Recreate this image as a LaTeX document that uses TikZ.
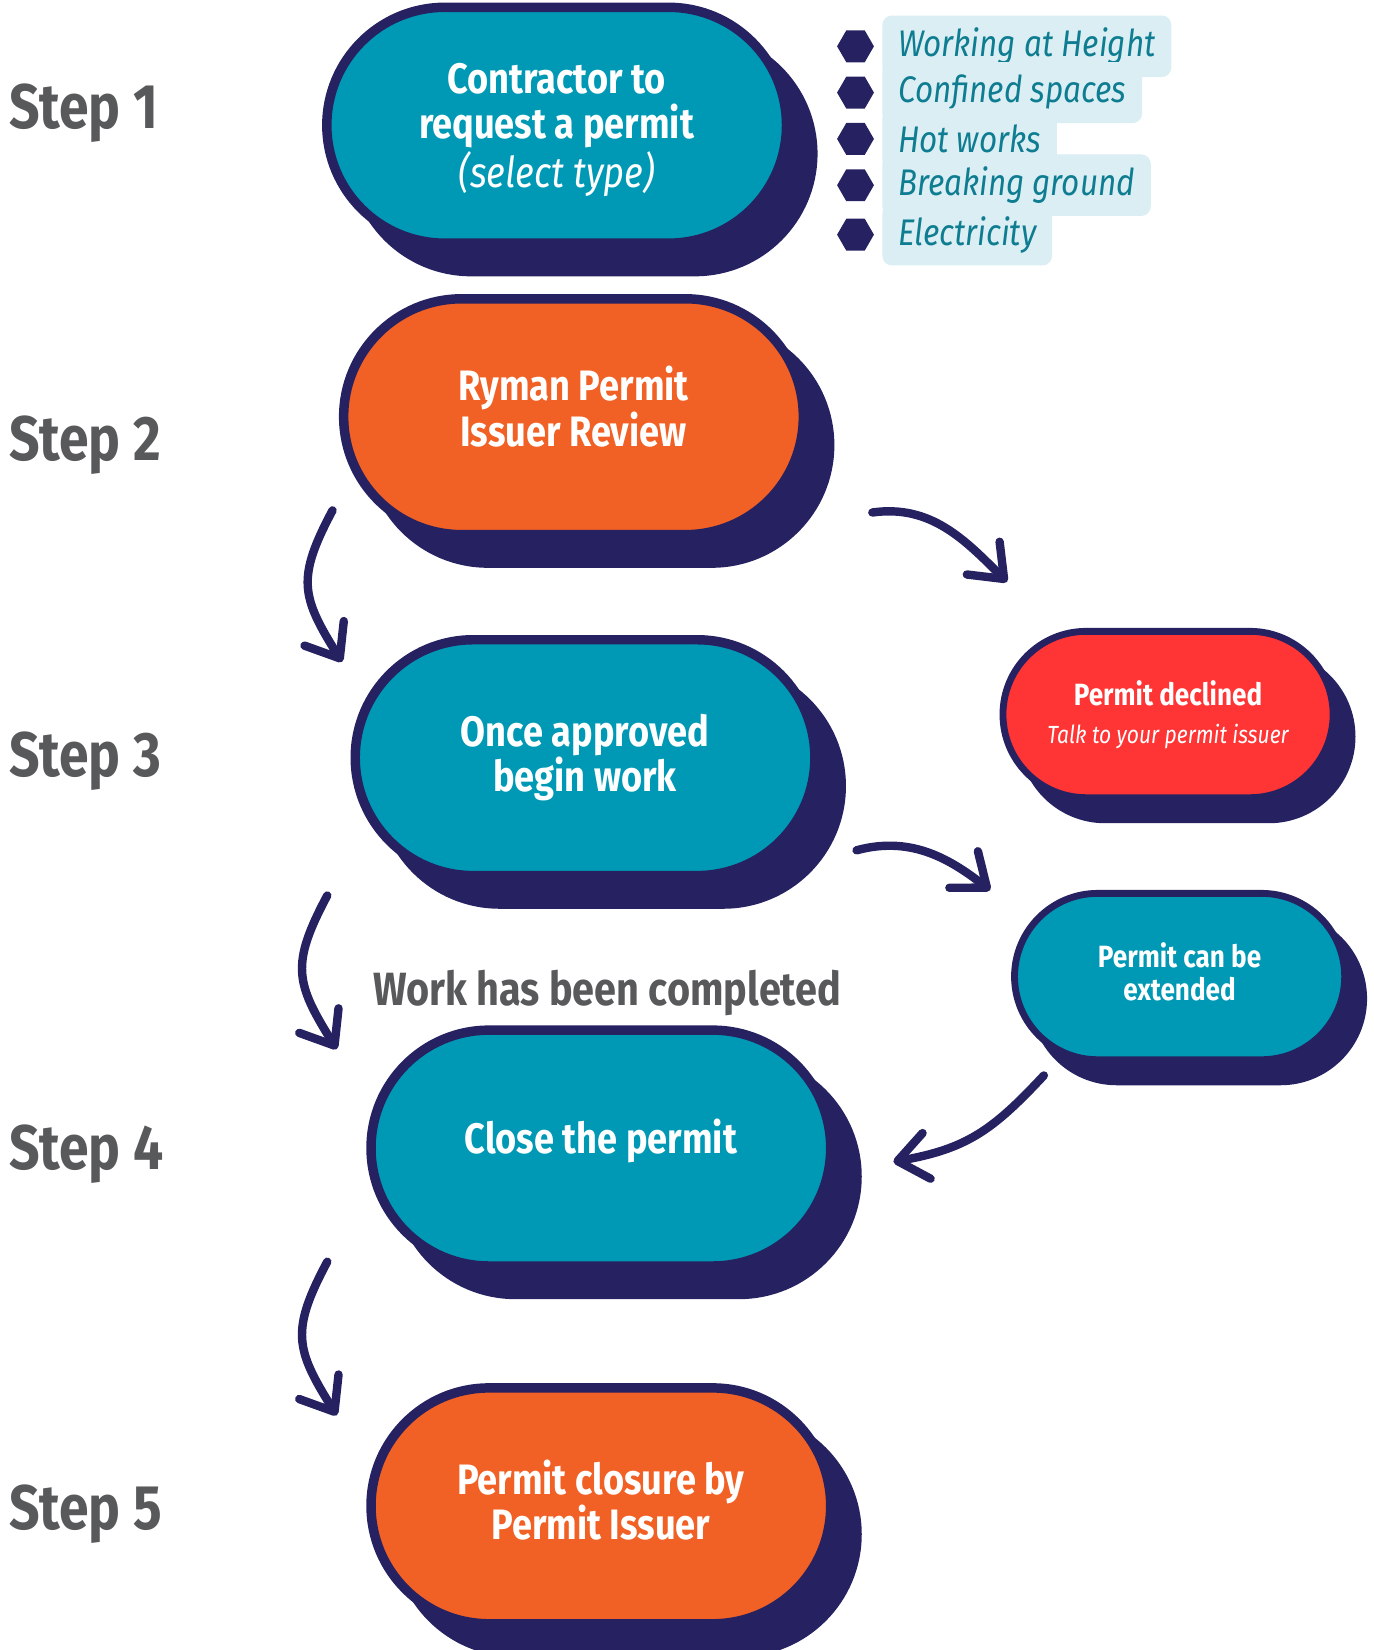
\documentclass[tikz,border=0pt]{standalone}
\usepackage{fontspec}
\setmainfont[FakeStretch=0.85]{Fira Sans}
\usepackage{xcolor}
\usepackage{tikz}
\usetikzlibrary{shapes.misc,shapes.geometric}
\usetikzlibrary{arrows.meta,shadows,positioning}
\definecolor{navy}{HTML}{262262}
\definecolor{tealbox}{HTML}{0099B5}
\definecolor{orangebox}{HTML}{F16024}
\definecolor{redbox}{HTML}{FF3434}
\definecolor{stepgray}{HTML}{58595B}
\definecolor{pale}{HTML}{DAEEF3}
\definecolor{itemtext}{HTML}{0E7C91}
\tikzset{
  bigbox/.style = {rounded rectangle, draw=navy, line width=0.09cm, minimum width=4.6cm, minimum height=2.24cm, align=center, text=white, font=\fontsize{11.5}{12.2}\selectfont\bfseries,
    general shadow={fill=navy, draw=navy, line width=0.09cm, shadow xshift=0.25cm, shadow yshift=-0.27cm}},
  smallbox/.style = {rounded rectangle, draw=navy, line width=0.065cm, minimum width=3.37cm, minimum height=1.58cm, align=center, text=white, font=\fontsize{8.3}{8.8}\selectfont\bfseries,
    general shadow={fill=navy, draw=navy, line width=0.065cm, shadow xshift=0.18cm, shadow yshift=-0.21cm}},
  steplbl/.style = {anchor=base west, inner sep=0pt, text=stepgray, font=\fontsize{17}{20}\selectfont\bfseries},
  hexa/.style = {regular polygon, regular polygon sides=6, minimum size=0.35cm, inner sep=0pt, fill=navy},
  item/.style = {fill=pale, rounded corners=0.09cm, text=itemtext, inner xsep=0.15cm, minimum height=0.58cm, font=\fontsize{10}{12}\selectfont\itshape},
  flow/.style = {draw=navy, line width=0.08cm, line cap=round, -{Straight Barb[length=0.28cm, width=0.44cm, round]}}
}
\begin{document}
\begin{tikzpicture}[x=0.01cm, y=0.01cm]
	\useasboundingbox (0,0) rectangle (1305,-1568);
	\node[steplbl] (l1) at (8,-122) {Step 1};
	\node[steplbl] (l2) at (8,-438) {Step 2};
	\node[steplbl] (l3) at (8,-738) {Step 3};
	\node[steplbl] (l4) at (8,-1111) {Step 4};
	\node[steplbl] (l5) at (8,-1453) {Step 5};
	\node[bigbox, fill=tealbox] (s1) at (529,-119) {\rule{0pt}{10.8pt}Contractor to\\request a permit\\{\mdseries\itshape (select type)}};
	\node[bigbox, fill=orangebox] (s2) at (545,-396) {Ryman Permit\\Issuer Review\rule[-5.7pt]{0pt}{5.7pt}};
	\node[bigbox, fill=tealbox] (s3) at (556,-720) {Once approved\\begin work};
	\node[bigbox, fill=tealbox] (s4) at (571,-1091) {Close the permit\rule[-6.5pt]{0pt}{6.5pt}};
	\node[bigbox, fill=orangebox] (s5) at (571,-1431) {Permit closure by\\Permit Issuer\rule[-3.4pt]{0pt}{3.4pt}};
	\node[smallbox, fill=redbox] (dec) at (1110,-679) {Permit declined\\[1.4pt]{\mdseries\itshape\fontsize{6.7}{8}\selectfont Talk to your permit issuer}};
	\node[smallbox, fill=tealbox] (ext) at (1121,-928) {Permit can be\\extended\rule[-2.8pt]{0pt}{2.8pt}};
	\node[inner sep=0pt, text=stepgray, font=\fontsize{12.6}{15}\selectfont\bfseries] (work) at (577,-944) {Work has been completed};
	\node[hexa] (h1) at (813,-44) {};
	\node[hexa] (h2) at (813,-88) {};
	\node[hexa] (h3) at (813,-132) {};
	\node[hexa] (h4) at (813,-176) {};
	\node[hexa] (h5) at (813,-223) {};
	\node[item, right=0.065cm of h1] (t1) {Working at Height};
	\node[item, right=0.065cm of h2] (t2) {Confined spaces};
	\node[item, right=0.065cm of h3] (t3) {Hot works};
	\node[item, right=0.065cm of h4] (t4) {Breaking ground};
	\node[item, right=0.065cm of h5] (t5) {Electricity};
	\coordinate (a1s) at (316,-485);
	\coordinate (a1e) at (325,-629);
	\coordinate (a2s) at (311,-851);
	\coordinate (a2e) at (320,-997);
	\coordinate (a3s) at (311,-1199);
	\coordinate (a3e) at (320,-1345);
	\coordinate (a4s) at (829,-487);
	\coordinate (a4e) at (957,-553);
	\coordinate (a5s) at (814,-808);
	\coordinate (a5e) at (941,-846);
	\coordinate (a6s) at (992,-1022);
	\coordinate (a6e) at (849,-1104);
	\draw[flow] (a1s) to[out=242, in=122, looseness=1.3] (a1e);
	\draw[flow] (a2s) to[out=242, in=122, looseness=1.3] (a2e);
	\draw[flow] (a3s) to[out=242, in=122, looseness=1.3] (a3e);
	\draw[flow] (a4s) to[out=8, in=135] (a4e);
	\draw[flow] (a5s) to[out=15, in=142] (a5e);
	\draw[flow] (a6s) to[out=227, in=10, looseness=1.1] (a6e);
\end{tikzpicture}
\end{document}
